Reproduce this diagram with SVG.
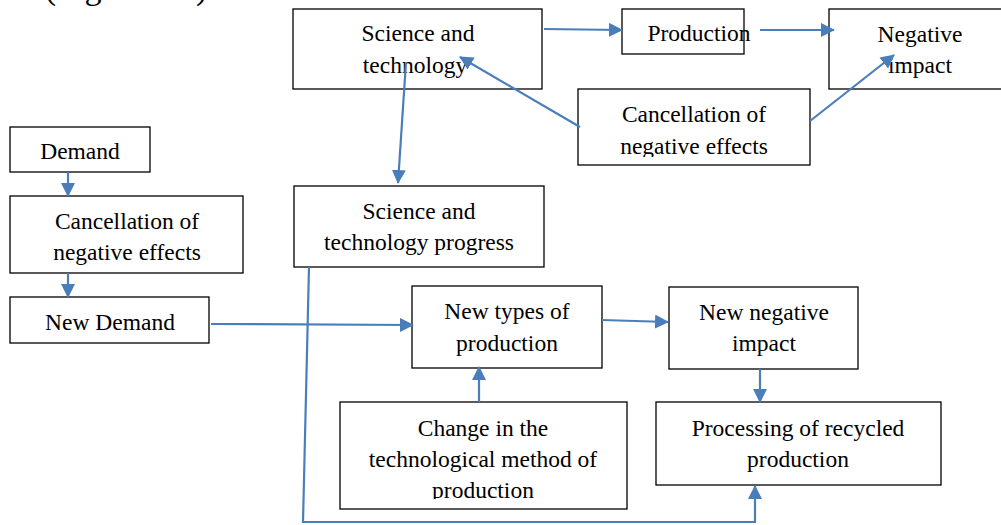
<svg xmlns="http://www.w3.org/2000/svg" width="1001" height="525" viewBox="0 0 1001 525">
<style>
.box{fill:#fff;stroke:#000;stroke-width:1.3}
.t{font-family:"Liberation Serif","Times New Roman",serif;font-size:23.5px;fill:#000;text-anchor:middle}
.c{fill:none;stroke:#4A7EBB;stroke-width:2.2}
</style>
<defs>
<marker id="a" viewBox="0 0 14 14" markerWidth="14" markerHeight="14" refX="13" refY="7" orient="auto" markerUnits="userSpaceOnUse">
<path d="M0,0 L14,7 L0,14 Z" fill="#4A7EBB"/>
</marker>
</defs>
<rect width="1001" height="525" fill="#fff"/>
<text x="8" y="-1" style="font-family:'Liberation Serif','Times New Roman',serif;font-size:34px;fill:#000">es (Figure 1.1).</text>

<g id="n-st">
<rect class="box" x="293" y="9" width="249" height="80"/>
<text class="t" x="418" y="41">Science and</text>
<text class="t" x="415" y="73">technology</text>
</g>
<g id="n-prod">
<rect class="box" x="622" y="9" width="122" height="45"/>
<text class="t" x="699" y="41">Production</text>
</g>
<g id="n-neg">
<rect class="box" x="829" y="9" width="180" height="80"/>
<text class="t" x="920" y="42">Negative</text>
<text class="t" x="920" y="73">impact</text>
</g>
<g id="n-cancel-top">
<rect class="box" x="578" y="89" width="232" height="76"/>
<text class="t" x="694" y="122">Cancellation of</text>
<svg x="578" y="89" width="232" height="68" overflow="hidden"><text class="t" x="116" y="65">negative effects</text></svg>
</g>
<g id="n-demand">
<rect class="box" x="10" y="127" width="140" height="45"/>
<text class="t" x="80" y="159">Demand</text>
</g>
<g id="n-cancel-left">
<rect class="box" x="10" y="196" width="233" height="77"/>
<text class="t" x="127" y="229">Cancellation of</text>
<text class="t" x="127" y="260">negative effects</text>
</g>
<g id="n-newdemand">
<rect class="box" x="10" y="297" width="199" height="46"/>
<text class="t" x="110" y="330">New Demand</text>
</g>
<g id="n-stp">
<rect class="box" x="294" y="186" width="250" height="81"/>
<text class="t" x="419" y="219">Science and</text>
<text class="t" x="419" y="250">technology progress</text>
</g>
<g id="n-newtypes">
<rect class="box" x="412" y="286" width="190" height="82"/>
<text class="t" x="507" y="319">New types of</text>
<text class="t" x="507" y="351">production</text>
</g>
<g id="n-newneg">
<rect class="box" x="669" y="287" width="189" height="82"/>
<text class="t" x="764" y="320">New negative</text>
<text class="t" x="764" y="351">impact</text>
</g>
<g id="n-change">
<rect class="box" x="340" y="402" width="287" height="107"/>
<text class="t" x="483" y="436">Change in the</text>
<text class="t" x="483" y="467">technological method of</text>
<svg x="340" y="402" width="287" height="97" overflow="hidden"><text class="t" x="143" y="96">production</text></svg>
</g>
<g id="n-proc">
<rect class="box" x="656" y="402" width="285" height="83"/>
<text class="t" x="798" y="436">Processing of recycled</text>
<text class="t" x="798" y="467">production</text>
</g>

<g id="connectors">
<line class="c" x1="544" y1="29" x2="622" y2="30" marker-end="url(#a)"/>
<line class="c" x1="760" y1="30" x2="834" y2="30" marker-end="url(#a)"/>
<line class="c" x1="406" y1="62" x2="398" y2="183" marker-end="url(#a)"/>
<line class="c" x1="580" y1="127" x2="460" y2="57" marker-end="url(#a)"/>
<line class="c" x1="810" y1="121" x2="894" y2="55" marker-end="url(#a)"/>
<line class="c" x1="68" y1="172" x2="68" y2="196" marker-end="url(#a)"/>
<line class="c" x1="68" y1="273" x2="68" y2="297" marker-end="url(#a)"/>
<line class="c" x1="211" y1="324" x2="413" y2="325" marker-end="url(#a)"/>
<line class="c" x1="602" y1="320" x2="668" y2="322" marker-end="url(#a)"/>
<line class="c" x1="479" y1="402" x2="479" y2="367" marker-end="url(#a)"/>
<line class="c" x1="760" y1="369" x2="760" y2="402" marker-end="url(#a)"/>
<polyline class="c" points="309,267 303,522 755,522 755,486" marker-end="url(#a)"/>
</g>
</svg>
